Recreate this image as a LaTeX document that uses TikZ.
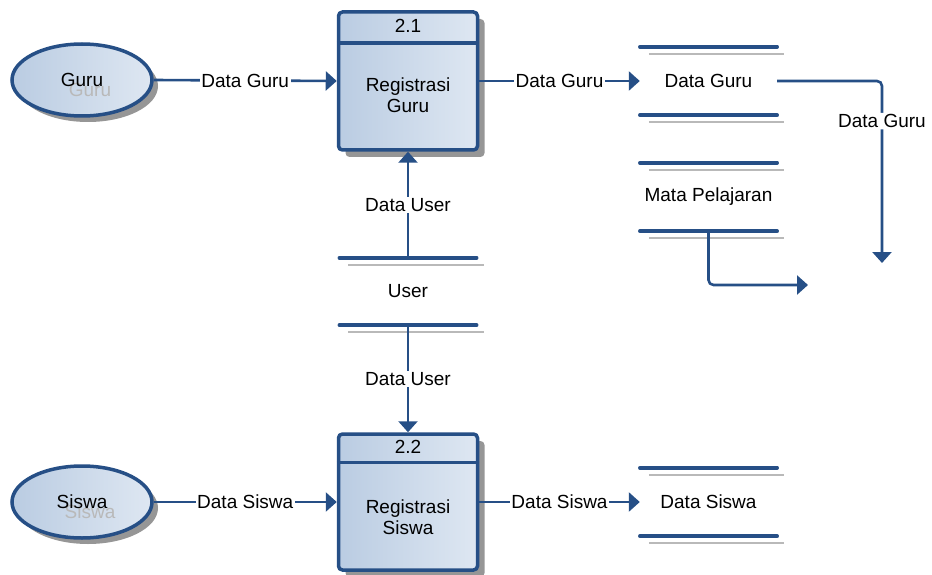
\documentclass[tikz,border=0pt]{standalone}
\usepackage{fontspec}
\setmainfont{Liberation Sans}
\usetikzlibrary{shapes.geometric,arrows.meta,calc,shadows}
\definecolor{navy}{RGB}{38,79,134}
\definecolor{fillA}{RGB}{186,204,226}
\definecolor{fillB}{RGB}{222,231,242}
\definecolor{shadowgray}{RGB}{150,150,150}
\begin{document}
\begin{tikzpicture}[x=1pt,y=-1pt,
  font=\fontsize{19}{21}\selectfont,
  ent/.style={ellipse, draw=navy, line width=3.5pt, left color=fillA, right color=fillB,
    minimum width=140pt, minimum height=72pt, inner sep=0pt,
    drop shadow={shadow xshift=6pt, shadow yshift=-6pt, fill=shadowgray, opacity=1}},
  proc/.style={rectangle, rounded corners=4pt, draw=navy, line width=3.5pt,
    left color=fillA, right color=fillB, minimum width=139pt, inner sep=0pt,
    drop shadow={shadow xshift=7pt, shadow yshift=-7pt, fill=shadowgray, opacity=1}},
  store/.style={rectangle, minimum width=137pt, inner sep=0pt},
  storeline/.style={draw=navy, line width=3.5pt, line cap=round},
  storeshadow/.style={draw=gray!55, line width=2.2pt},
  flow/.style={draw=navy, line width=2.6pt, -{Triangle[length=11pt,width=19pt]}},
  lbl/.style={fill=white, inner sep=1.5pt},
  ghost/.style={text=gray!55},
]
\useasboundingbox (0,0) rectangle (932,575);

% external entities, each with a faint offset copy of its name
\node[ent] (guru) at (82,80) {};
\node[ghost] (gurughost) at (90,90) {Guru};
\node (gurutxt) at (82,80) {Guru};

\node[ent] (siswa) at (82,502) {};
\node[ghost] (siswaghost) at (90,512) {Siswa};
\node (siswatxt) at (82,502) {Siswa};

% processes
\node[proc, minimum height=138pt] (p1) at (408,81) {};
\draw[navy, line width=3.5pt] ($(p1.north west)+(0,33)$) -- ($(p1.north east)+(0,33)$);
\node (p1id) at ($(p1.north)+(0,16)$) {2.1};
\node[align=center] (p1txt) at ($(p1.center)+(0,14)$) {Registrasi\\Guru};

\node[proc, minimum height=136pt] (p2) at (408,502) {};
\draw[navy, line width=3.5pt] ($(p2.north west)+(0,30)$) -- ($(p2.north east)+(0,30)$);
\node (p2id) at ($(p2.north)+(0,15)$) {2.2};
\node[align=center] (p2txt) at ($(p2.center)+(0,15)$) {Registrasi\\Siswa};

% data stores
\node[store, minimum height=68pt] (dsguru) at (708.5,81) {Data Guru};
\node[store, minimum height=68pt] (dsmapel) at (708.5,197) {Mata Pelajaran};
\node[store, minimum height=67pt] (dsuser) at (408,291.5) {User};
\node[store, minimum height=68pt] (dssiswa) at (708.5,502) {Data Siswa};

\foreach \s in {dsguru,dsmapel,dsuser,dssiswa}{
  \draw[storeshadow] ($(\s.north west)+(9,7)$) -- ($(\s.north east)+(7,7)$);
  \draw[storeshadow] ($(\s.south west)+(9,7)$) -- ($(\s.south east)+(7,7)$);
  \draw[storeline] (\s.north west) -- (\s.north east);
  \draw[storeline] (\s.south west) -- (\s.south east);
}

% data flows
\draw[flow] (guru.east) -- (p1.west) node[lbl, midway] {Data Guru};
\draw[flow] (p1.east) -- (dsguru.west) node[lbl, midway] {Data Guru};
\draw[flow] (dsuser.north) -- (p1.south) node[lbl, midway] {Data User};
\draw[flow] (dsuser.south) -- (p2.north) node[lbl, midway] {Data User};
\draw[flow] (siswa.east) -- (p2.west) node[lbl, midway] {Data Siswa};
\draw[flow] (p2.east) -- (dssiswa.west) node[lbl, midway] {Data Siswa};

\coordinate (guruout) at (882,263);
\coordinate (mapelout) at (808,285);
\draw[flow, rounded corners=5pt] (dsguru.east) -| (guruout) node[lbl, pos=0.61] {Data Guru};
\draw[flow, rounded corners=5pt] (dsmapel.south) |- (mapelout);
\end{tikzpicture}
\end{document}
